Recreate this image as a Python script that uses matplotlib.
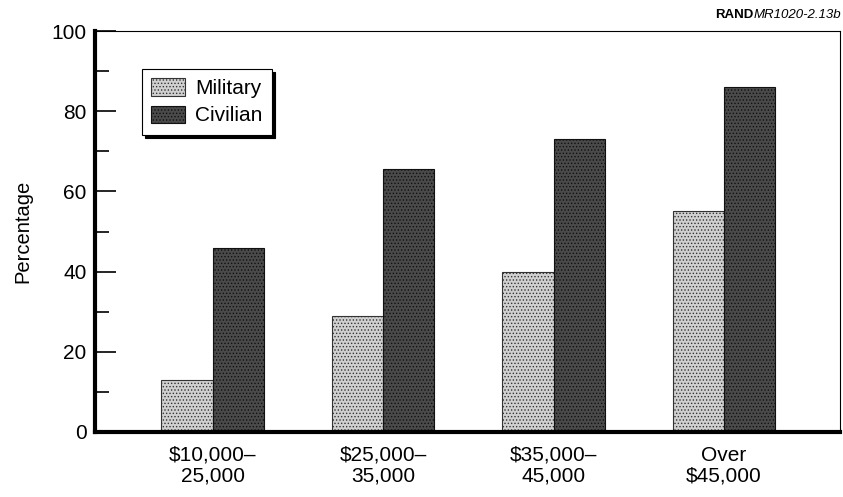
import matplotlib
matplotlib.use("Agg")
import matplotlib.pyplot as plt
import numpy as np

plt.rcParams['font.family'] = ['Liberation Sans', 'DejaVu Sans']
plt.rcParams['hatch.color'] = '#8a8a8a'
plt.rcParams['hatch.linewidth'] = 0.6

categories = ["$10,000–\n25,000", "$25,000–\n35,000", "$35,000–\n45,000", "Over\n$45,000"]
military = [13, 29, 40, 55]
civilian = [46, 65.5, 73, 86]
yticks = [0, 20, 40, 60, 80, 100]

fig = plt.figure(figsize=(8.43, 4.97), dpi=100)
ax = fig.add_axes([0.1127, 0.1308, 0.8837, 0.8068])

x = np.arange(len(categories))
w = 0.3
ax.bar(x - w/2, military, w, color='#d0d0d0', edgecolor='#333333', linewidth=0.8, label='Military', hatch='.....')
ax.bar(x + w/2, civilian, w, color='#4a4a4a', edgecolor='#111111', linewidth=0.8, label='Civilian', hatch='.....')

ax.set_xlim(-0.69, 3.68)
ax.set_ylim(0, 100)
ax.set_yticks(yticks)
ax.set_yticks([10, 30, 50, 70, 90], minor=True)
ax.set_xticks(x)
ax.set_xticklabels(categories, fontsize=15, linespacing=1.1)
ax.tick_params(axis='x', length=0, pad=10)
ax.tick_params(axis='y', which='major', direction='in', length=15, width=1.2, labelsize=15, pad=6)
ax.tick_params(axis='y', which='minor', direction='in', length=10, width=1.2)
ax.spines['left'].set_linewidth(3)
ax.spines['bottom'].set_linewidth(3)
ax.spines['top'].set_linewidth(0.8)
ax.spines['right'].set_linewidth(0.8)
ax.set_ylabel('Percentage', fontsize=14.5, labelpad=14)

leg = ax.legend(loc='upper left', bbox_to_anchor=(0.063, 0.905), fontsize=15, frameon=True,
                fancybox=False, shadow={'color': 'black', 'alpha': 1}, edgecolor='black',
                handlelength=1.6, handleheight=0.9, handletextpad=0.5,
                borderpad=0.45, labelspacing=0.35, borderaxespad=0)
leg.get_frame().set_linewidth(0.8)

t = fig.text(0.998, 0.97, 'MR1020-2.13b', fontsize=9.5, style='italic', ha='right', va='center')
fig.canvas.draw()
bb = t.get_window_extent()
fig.text((bb.x0 - 0.5) / fig.bbox.width, 0.97, 'RAND', fontsize=9.5, fontweight='bold',
         ha='right', va='center')

fig.savefig('out.png', dpi=100)
